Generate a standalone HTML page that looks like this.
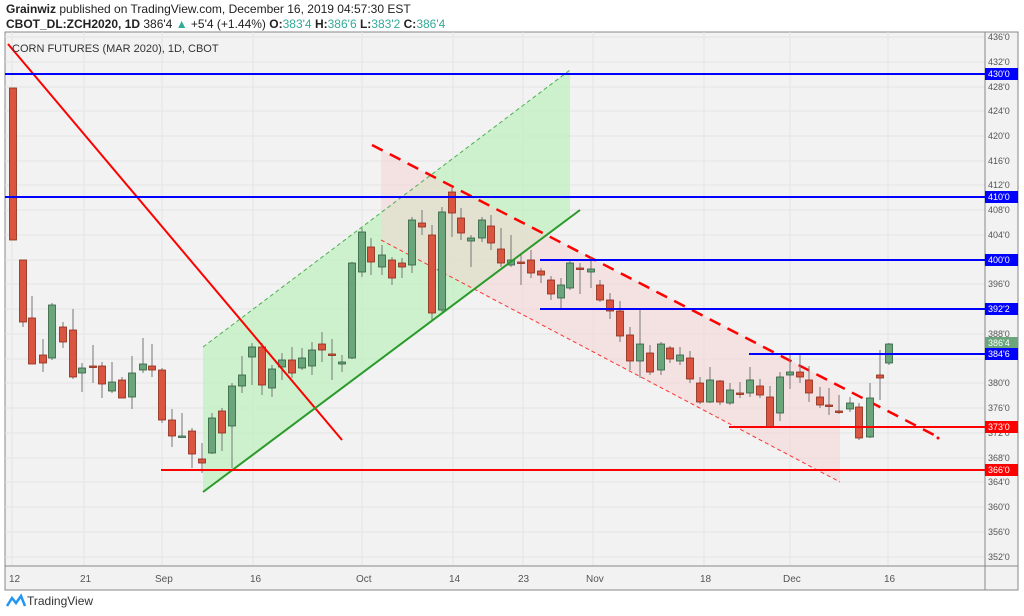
<!DOCTYPE html>
<html><head><meta charset="utf-8"><style>
body{margin:0;background:#fff;width:1024px;height:616px;overflow:hidden;font-family:"Liberation Sans",sans-serif}
.t{position:absolute;left:6px;font-size:12px;color:#222}
</style></head><body>
<div class="t" style="top:2px"><b>Grainwiz</b> published on TradingView.com, December 16, 2019 04:57:30 EST</div>
<div class="t" style="top:17px"><b>CBOT_DL:ZCH2020, 1D</b> 386'4 <span style="color:#3a9">▲</span> +5'4 (+1.44%) <b>O:</b><span style="color:#3a9">383'4</span> <b>H:</b><span style="color:#3a9">386'6</span> <b>L:</b><span style="color:#3a9">383'2</span> <b>C:</b><span style="color:#3a9">386'4</span></div>
<svg id="s" width="1024" height="616" style="position:absolute;left:0;top:0" xmlns="http://www.w3.org/2000/svg" font-family="Liberation Sans, sans-serif">
<rect x="5" y="32" width="1013" height="558" fill="#f2f2f2" stroke="#888" stroke-width="1"/>
<g id="grid" stroke="#e4e4e4" stroke-width="1"></g>
<line x1="985" y1="32" x2="985" y2="590" stroke="#888"/>
<line x1="5" y1="566" x2="1018" y2="566" stroke="#888"/>
<polygon points="203,347 570,70 570,217 203,492" fill="#bff0bf" opacity="0.75"/>
<polygon points="381,150 840,386 840,482 381,240" fill="#f5d5d5" opacity="0.55"/>
<line x1="203" y1="347" x2="570" y2="70" stroke="#4caf50" stroke-width="1" stroke-dasharray="4,3"/>
<line x1="381" y1="240" x2="840" y2="482" stroke="#f33" stroke-width="1" stroke-dasharray="4,3"/>
<line x1="372" y1="145" x2="940" y2="438" stroke="#f00" stroke-width="2.5" stroke-dasharray="12,8"/>
<circle cx="938" cy="438" r="1.5" fill="#f00"/>
<g id="c"></g>
<line x1="8" y1="44" x2="342" y2="440" stroke="#f00" stroke-width="2"/>
<line x1="203" y1="492" x2="580" y2="210" stroke="#2a9a2a" stroke-width="2"/>
<g stroke-width="2">
<line x1="5" y1="74" x2="985" y2="74" stroke="#00f"/>
<line x1="5" y1="197" x2="985" y2="197" stroke="#00f"/>
<line x1="540" y1="260" x2="985" y2="260" stroke="#00f"/>
<line x1="540" y1="309" x2="985" y2="309" stroke="#00f"/>
<line x1="749" y1="354" x2="985" y2="354" stroke="#00f"/>
<line x1="729" y1="427" x2="985" y2="427" stroke="#f00"/>
<line x1="161" y1="470" x2="985" y2="470" stroke="#f00"/>
</g>
<text x="12" y="52" font-size="11" fill="#333">CORN FUTURES (MAR 2020), 1D, CBOT</text>
<g font-size="9" fill="#555" id="ax">
<text x="988" y="40">436'0</text><text x="988" y="65">432'0</text><text x="988" y="90">428'0</text><text x="988" y="114">424'0</text><text x="988" y="139">420'0</text><text x="988" y="164">416'0</text><text x="988" y="188">412'0</text><text x="988" y="213">408'0</text><text x="988" y="238">404'0</text><text x="988" y="287">396'0</text><text x="988" y="337">388'0</text><text x="988" y="386">380'0</text><text x="988" y="411">376'0</text><text x="988" y="436">372'0</text><text x="988" y="461">368'0</text><text x="988" y="485">364'0</text><text x="988" y="510">360'0</text><text x="988" y="535">356'0</text><text x="988" y="560">352'0</text>
</g>
<g font-size="9" fill="#fff">
<rect x="985" y="68" width="33" height="12" fill="#00f"/><text x="988" y="77">430'0</text>
<rect x="985" y="191" width="33" height="12" fill="#00f"/><text x="988" y="200">410'0</text>
<rect x="985" y="254" width="33" height="12" fill="#00f"/><text x="988" y="263">400'0</text>
<rect x="985" y="303" width="33" height="12" fill="#00f"/><text x="988" y="312">392'2</text>
<rect x="985" y="337" width="33" height="11" fill="#6aa57c"/><text x="988" y="346">386'4</text>
<rect x="985" y="348" width="33" height="12" fill="#00f"/><text x="988" y="357">384'6</text>
<rect x="985" y="421" width="33" height="12" fill="#f00"/><text x="988" y="430">373'0</text>
<rect x="985" y="464" width="33" height="12" fill="#f00"/><text x="988" y="473">366'0</text>
</g>
<g font-size="10" fill="#555">
<text x="9" y="582">12</text><text x="80" y="582">21</text><text x="155" y="582">Sep</text><text x="250" y="582">16</text><text x="356" y="582">Oct</text><text x="449" y="582">14</text><text x="518" y="582">23</text><text x="586" y="582">Nov</text><text x="700" y="582">18</text><text x="783" y="582">Dec</text><text x="884" y="582">16</text>
</g>
<path d="M7,606 l5,-8 l4,5 l5,-7 l4,10" fill="none" stroke="#2196f3" stroke-width="2.5"/>
<text x="27" y="605" font-size="12" fill="#333">TradingView</text>
</svg>
<script>
var g=document.getElementById('grid'),ns='http://www.w3.org/2000/svg';
[37,62,87,111,136,161,185,210,235,260,284,309,334,359,383,408,433,458,482,507,532,557].forEach(function(y){var l=document.createElementNS(ns,'line');l.setAttribute('x1',5);l.setAttribute('x2',985);l.setAttribute('y1',y);l.setAttribute('y2',y);g.appendChild(l);});
[12,84,162,253,362,453,523,593,704,790,888].forEach(function(x){var l=document.createElementNS(ns,'line');l.setAttribute('x1',x);l.setAttribute('x2',x);l.setAttribute('y1',32);l.setAttribute('y2',566);g.appendChild(l);});
var d=[[13,88,240,88,240],[23,260,322,260,327],[32,318,364,296,364],[43,355,363,339,372],[52,358,305,303,360],[63,327,342,322,348],[73,330,377,309,379],[82,373,368,363,392],[93,366,367,345,383],[102,366,384,362,398],[112,391,382,362,393],[122,380,398,377,398],[132,397,373,356,409],[143,370,364,338,373],[152,366,370,344,377],[162,370,420,368,423],[172,420,436,409,447],[182,437,436,413,437],[192,431,454,428,468],[202,459,463,443,473],[212,453,418,413,454],[222,411,433,408,451],[232,426,386,383,468],[242,386,375,356,393],[252,357,347,343,385],[262,347,385,343,395],[272,388,369,365,397],[282,367,360,353,380],[292,360,373,347,378],[302,368,358,348,370],[312,366,350,342,375],[322,344,350,332,362],[332,354,355,339,380],[342,364,362,355,372],[352,358,263,262,359],[362,272,232,228,277],[371,247,262,238,275],[382,267,255,245,275],[392,260,278,257,285],[402,263,267,258,278],[412,265,220,217,273],[422,223,227,210,235],[432,235,313,225,320],[442,310,212,207,312],[452,192,213,188,237],[461,218,233,208,240],[471,241,238,235,267],[482,238,220,217,242],[491,226,243,215,250],[501,249,263,228,267],[511,265,260,235,267],[521,262,263,253,285],[531,260,273,250,278],[541,271,275,268,283],[551,280,294,276,300],[561,298,285,278,310],[570,288,263,260,290],[580,268,269,263,294],[591,272,269,257,288],[600,285,300,280,302],[610,300,311,293,319],[620,311,336,301,342],[630,335,361,327,370],[640,361,344,308,378],[650,353,372,345,375],[661,370,344,342,375],[670,348,359,346,363],[680,361,355,347,365],[690,358,379,351,383],[700,383,402,377,404],[710,402,380,367,403],[720,381,402,380,405],[730,403,390,383,405],[740,393,394,382,398],[750,393,380,367,397],[760,386,395,379,398],[770,397,427,386,427],[780,413,377,372,421],[790,375,372,353,389],[800,372,377,355,383],[809,380,393,366,402],[820,397,405,387,408],[829,405,406,388,415],[839,411,412,395,414],[850,409,403,397,412],[859,407,438,403,440],[870,437,398,383,438],[880,375,378,350,400],[889,363,344,343,365]];
var c=document.getElementById('c');
d.forEach(function(k){var x=k[0],o=k[1],cl=k[2],red=cl>o,col=red?'#d9553f':'#6aa57c',bd=red?'#8a2a1a':'#2f5e3f';
var w=document.createElementNS(ns,'line');w.setAttribute('x1',x);w.setAttribute('x2',x);w.setAttribute('y1',k[3]);w.setAttribute('y2',k[4]);w.setAttribute('stroke','#777');c.appendChild(w);
var r=document.createElementNS(ns,'rect');var t=Math.min(o,cl),h=Math.max(1.5,Math.abs(cl-o));r.setAttribute('x',x-3.5);r.setAttribute('y',t);r.setAttribute('width',7);r.setAttribute('height',h);r.setAttribute('fill',col);r.setAttribute('stroke',bd);r.setAttribute('stroke-width',0.8);c.appendChild(r);});
</script>
</body></html>
